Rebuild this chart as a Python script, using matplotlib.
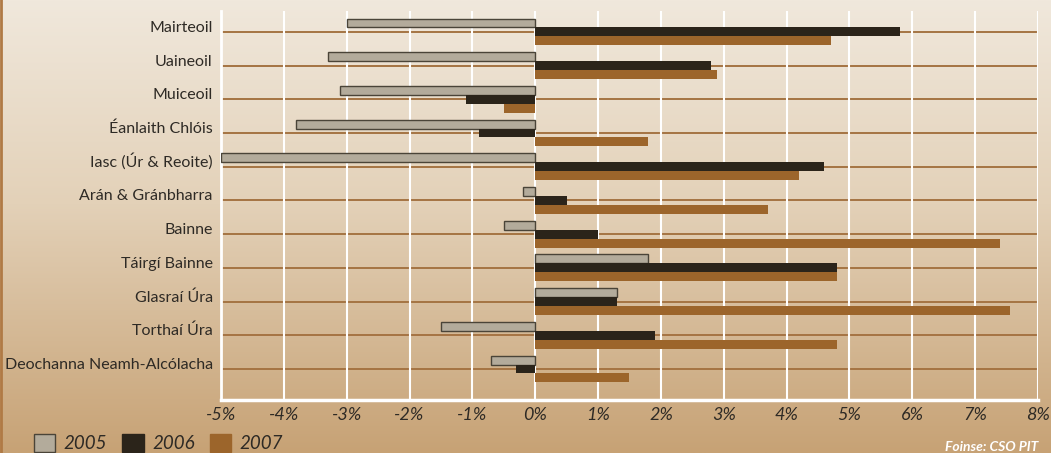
import matplotlib.pyplot as plt
import matplotlib as mpl
import matplotlib.ticker as mtick
from matplotlib.patches import Patch
import numpy as np

# Datos: variación de precios por producto (%)
categorias = ['Mairteoil', 'Uaineoil', 'Muiceoil', 'Éanlaith Chlóis', 'Iasc (Úr & Reoite)',
              'Arán & Gránbharra', 'Bainne', 'Táirgí Bainne', 'Glasraí Úra', 'Torthaí Úra',
              'Deochanna Neamh-Alcólacha']
anios = ['2005', '2006', '2007']
v2005 = [-3.0, -3.3, -3.1, -3.8, -5.0, -0.2, -0.5, 1.8, 1.3, -1.5, -0.7]
v2006 = [5.8, 2.8, -1.1, -0.9, 4.6, 0.5, 1.0, 4.8, 1.3, 1.9, -0.3]
v2007 = [4.7, 2.9, -0.5, 1.8, 4.2, 3.7, 7.4, 4.8, 7.55, 4.8, 1.5]
xticks = [-5, -4, -3, -2, -1, 0, 1, 2, 3, 4, 5, 6, 7, 8]
fuente = 'Foinse: CSO PIT'

colores = ['#b3ab9b', '#2b241a', '#9c652b']
bordes = ['#4a4438', '#2b241a', '#9c652b']

mpl.rc('font', family=['Lato', 'DejaVu Sans'])
fig = plt.figure(figsize=(10.51, 4.53), dpi=100)

# Fondo degradado (de crema arriba a marrón claro abajo)
bg = fig.add_axes([0, 0, 1, 1], zorder=-10)
t = np.linspace(0, 1, 256)[:, None, None]
c_top = np.array(mpl.colors.to_rgb('#f0e8dc'))
c_mid = np.array(mpl.colors.to_rgb('#e3d1b8'))
c_bot = np.array(mpl.colors.to_rgb('#c7a275'))
img = np.where(t < 0.45,
               c_top + (c_mid - c_top) * (t / 0.45),
               c_mid + (c_bot - c_mid) * ((t - 0.45) / 0.55))
img = np.repeat(img, 2, axis=1)
bg.imshow(img, aspect='auto', extent=[0, 1, 0, 1])
bg.plot([0.001, 0.001], [0, 1], color='#b07a45', lw=2)
bg.set_xlim(0, 1)
bg.set_ylim(0, 1)
bg.set_axis_off()

ax = fig.add_axes([0.2103, 0.117, 0.7773, 0.8587])
ax.set_facecolor('none')

y = np.arange(len(categorias))
h = 0.265
for i, (vals, anio) in enumerate(zip([v2005, v2006, v2007], anios)):
    ax.barh(y + (i - 1) * h, vals, height=h, color=colores[i], edgecolor=bordes[i],
            linewidth=1.0 if i == 0 else 0, zorder=3, label=anio)

# Líneas horizontales de cada categoría
for yy in y:
    ax.axhline(yy, color='#a57443', lw=1.4, zorder=1)

ax.set_xlim(-5, 8)
ax.set_ylim(len(categorias) - 0.08, -0.62)
ax.set_xticks(xticks)
ax.xaxis.set_major_formatter(mtick.FuncFormatter(lambda v, p: f'{v:.0f}%'))
ax.grid(axis='x', color='white', lw=1.5, zorder=2)
ax.set_axisbelow(False)
ax.set_yticks(y)
ax.set_yticklabels(categorias, fontsize=11.5, color='#2e2a25', va='baseline')
for tl in ax.get_xticklabels():
    tl.set_fontstyle('italic')
    tl.set_fontsize(13)
    tl.set_color('#2e2a25')
ax.tick_params(length=0)
ax.tick_params(axis='y', pad=6)
ax.tick_params(axis='x', pad=5)
for s in ['top', 'right']:
    ax.spines[s].set_visible(False)
ax.spines['left'].set_color('white')
ax.spines['left'].set_linewidth(2)
ax.spines['bottom'].set_color('white')
ax.spines['bottom'].set_linewidth(2.5)

# Leyenda
handles = [Patch(facecolor=colores[i], edgecolor=bordes[i] if i == 0 else colores[i], lw=1)
           for i in range(3)]
fig.legend(handles, anios, loc='center left', bbox_to_anchor=(0.016, 0.022), ncol=3,
           frameon=False, prop={'style': 'italic', 'size': 13.5}, handlelength=1.15,
           handleheight=1.15, handletextpad=0.45, columnspacing=0.8, labelcolor='#2e2a25')

fig.text(0.988, 0.0, fuente, ha='right', va='bottom', color='white',
         fontsize=10, fontstyle='italic', fontweight='bold')

plt.savefig('out.png', dpi=100)
